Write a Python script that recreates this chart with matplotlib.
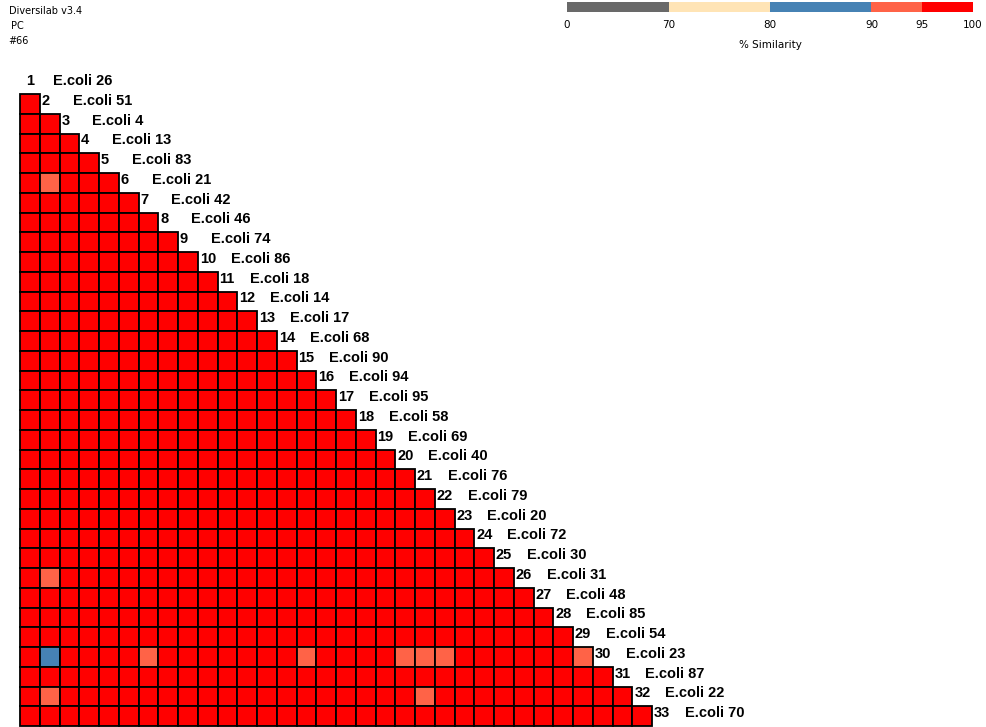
import matplotlib.pyplot as plt
from matplotlib.colors import BoundaryNorm, ListedColormap

# isolate numbers, in dendrogram order (1..33)
isolates = [26, 51, 4, 13, 83, 21, 42, 46, 74, 86, 18, 14, 17, 68, 90, 94,
            95, 58, 69, 40, 76, 79, 20, 72, 30, 31, 48, 85, 54, 23, 87, 22, 70]

# similarity bands and their colours
band_limits = [0, 70, 80, 90, 95, 100]
band_colors = ["#696969", "#ffe4b5", "#4682b4", "#ff6347", "#ff0000"]

# most pairs sit above 95 %; the rest are listed as (row, col, similarity)
base_similarity = 97.5
lower_pairs = [
    (6, 2, 93.0),
    (26, 2, 93.0),
    (30, 2, 86.0),
    (30, 7, 93.0),
    (30, 15, 93.0),
    (30, 20, 93.0),
    (30, 21, 93.0),
    (30, 22, 93.0),
    (30, 29, 93.0),
    (32, 2, 93.0),
    (32, 21, 93.0),
]

n = len(isolates)
similarity = {}
for row in range(2, n + 1):
    for col in range(1, row):
        similarity[(row, col)] = base_similarity
for row, col, value in lower_pairs:
    similarity[(row, col)] = value

cmap = ListedColormap(band_colors)
norm = BoundaryNorm(band_limits, cmap.N)

fig = plt.figure(figsize=(9.87, 7.27), dpi=100)

# main triangle: one unit per cell, 19.75 px per unit
cell_px = 19.75
ax = fig.add_axes([0, 0, 1, 1])
ax.set_xlim(-20 / cell_px, (987 - 20) / cell_px)
ax.set_ylim((727 - 94) / cell_px, -94 / cell_px)
ax.axis("off")

for row in range(2, n + 1):
    cols = list(range(1, row))
    values = [similarity[(row, c)] for c in cols]
    ax.bar([c - 1 for c in cols], 1, bottom=row - 2, width=1, align="edge",
           color=[cmap(norm(v)) for v in values], edgecolor="black",
           linewidth=1.3)

label_font = dict(family="Liberation Sans", fontsize=10.5, fontweight="bold",
                  va="center", ha="left")
for idx, iso in enumerate(isolates, start=1):
    edge = idx - 1
    y = idx - 2 + 0.5 - 0.15
    x_num = edge + 0.1 if idx > 1 else 0.3
    ax.text(x_num, y, str(idx), **label_font)
    ax.text(edge + 1.67, y, f"E.coli {iso}", **label_font)

# header text
small_font = dict(family="DejaVu Sans", fontsize=7, va="center", ha="left")
fig.text(9 / 987, 1 - 11 / 727, "Diversilab v3.4", **small_font)
fig.text(11 / 987, 1 - 26 / 727, "PC", **small_font)
fig.text(8 / 987, 1 - 41 / 727, "#66", **small_font)

# similarity key
band_edges = [0, 2, 4, 6, 7, 8]
cax = fig.add_axes([567 / 987, 1 - 12 / 727, 406 / 987, 10 / 727])
for i, color in enumerate(band_colors):
    cax.barh(0, band_edges[i + 1] - band_edges[i], left=band_edges[i],
             height=1, color=color, align="edge")
cax.set_xlim(0, 8)
cax.set_ylim(0, 1)
cax.set_yticks([])
cax.set_xticks(band_edges)
cax.set_xticklabels([str(v) for v in band_limits], fontsize=7.5)
cax.tick_params(axis="x", length=0, pad=6)
for spine in cax.spines.values():
    spine.set_visible(False)
cax.set_xlabel("% Similarity", fontsize=7.5, labelpad=7)

fig.savefig("out.png", dpi=100)
